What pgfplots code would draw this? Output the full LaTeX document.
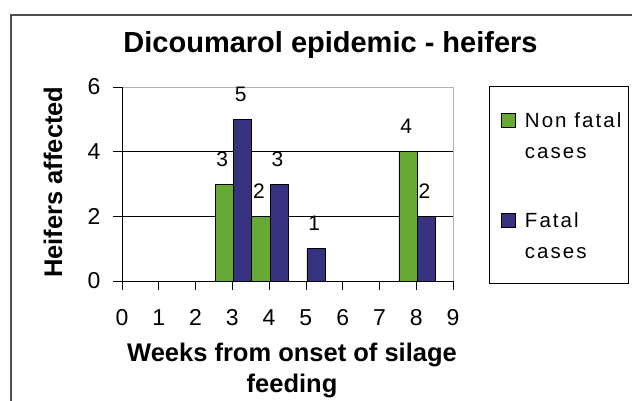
\documentclass[border=0pt]{standalone}
\usepackage{fontspec}
\setmainfont{Liberation Sans}
\newfontfamily\legfont[LetterSpace=10]{Liberation Sans}
\usepackage{pgfplots}
\pgfplotsset{compat=1.18}
\definecolor{nfgreen}{RGB}{102,170,51}
\definecolor{fblue}{RGB}{55,50,128}
\definecolor{chartframe}{RGB}{80,80,80}
\begin{document}
\begin{tikzpicture}
\useasboundingbox (0pt,0pt) rectangle (632pt,401pt);
\draw[line width=1.6pt, chartframe] (11pt,-30pt) rectangle (680pt,386pt);
\begin{axis}[
  at={(122pt,120pt)}, anchor=south west,
  scale only axis, width=331pt, height=194pt,
  xmin=0, xmax=9, ymin=0, ymax=6,
  xtick={0,1,...,9}, ytick={0,2,4,6},
  axis x line*=bottom, axis y line*=left,
  axis line style={black, line width=0.8pt, -},
  ymajorgrids, grid style={black, line width=0.7pt},
  major tick length=0pt,
  tick label style={font=\fontsize{23}{26}\selectfont},
  xticklabel style={yshift=-25pt},
  yticklabel style={xshift=-18pt},
  /pgf/number format/assume math mode=true,
  clip=false,
  ybar, bar width=0.5,
  title={Dicoumarol epidemic - heifers},
  title style={font=\fontsize{29}{34}\selectfont\bfseries, at={(axis description cs:0.63,1.149)}, anchor=base},
  xlabel={Weeks from onset of silage\\feeding},
  xlabel style={font=\fontsize{25.5}{31}\selectfont\bfseries, align=center, at={(axis description cs:0.5136,-0.577)}, anchor=base},
  ylabel={Heifers affected},
  ylabel style={font=\fontsize{25.5}{31}\selectfont\bfseries, at={(axis description cs:-0.181,0.51)}, anchor=base},
  every node near coord/.append style={font=\fontsize{21}{24}\selectfont, yshift=14pt, xshift=-2pt, black},
  legend style={at={(axis description cs:1.109,1.005)}, anchor=north west, draw=none, fill=none,
    inner xsep=12pt, inner ysep=20pt, font=\legfont\fontsize{20.5}{31}\selectfont, row sep=76pt, column sep=9pt,
    nodes={inner sep=0pt}},
  legend cell align=left,
  legend image code/.code={\draw[#1, draw=black, line width=0.7pt] (0pt,-10pt) rectangle (14pt,4pt);},
]
\addplot[fill=nfgreen, draw=black, line width=0.7pt, bar shift=-0.22, nodes near coords] coordinates {(3,3) (4,2) (8,4)};
\addlegendentry{\begin{tabular}[t]{@{}l@{}}Non fatal\\cases\end{tabular}}
\addplot[fill=fblue, draw=black, line width=0.7pt, bar shift=0.28, nodes near coords] coordinates {(3,5) (4,3) (5,1) (8,2)};
\addlegendentry{\begin{tabular}[t]{@{}l@{}}Fatal\\cases\end{tabular}}
\draw[gray!60, line width=0.8pt] (rel axis cs:0,1) -- (rel axis cs:1,1) -- (rel axis cs:1,0);
\draw[black, line width=0.8pt] (rel axis cs:0,1) -- (rel axis cs:0,0) -- (rel axis cs:1,0);
\end{axis}
\fill[black] (121.6pt,111pt) rectangle (122.4pt,120pt);
\fill[black] (158.4pt,111pt) rectangle (159.2pt,120pt);
\fill[black] (195.2pt,111pt) rectangle (196.0pt,120pt);
\fill[black] (231.9pt,111pt) rectangle (232.7pt,120pt);
\fill[black] (268.7pt,111pt) rectangle (269.5pt,120pt);
\fill[black] (305.5pt,111pt) rectangle (306.3pt,120pt);
\fill[black] (342.3pt,111pt) rectangle (343.1pt,120pt);
\fill[black] (379.0pt,111pt) rectangle (379.8pt,120pt);
\fill[black] (415.8pt,111pt) rectangle (416.6pt,120pt);
\fill[black] (452.6pt,111pt) rectangle (453.4pt,120pt);
\fill[black] (113pt,119.6pt) rectangle (122pt,120.4pt);
\fill[black] (113pt,184.3pt) rectangle (122pt,185.1pt);
\fill[black] (113pt,248.9pt) rectangle (122pt,249.7pt);
\fill[black] (113pt,313.6pt) rectangle (122pt,314.4pt);
\draw[black, line width=0.8pt] (489pt,118pt) rectangle (628pt,315pt);
\end{tikzpicture}
\end{document}
